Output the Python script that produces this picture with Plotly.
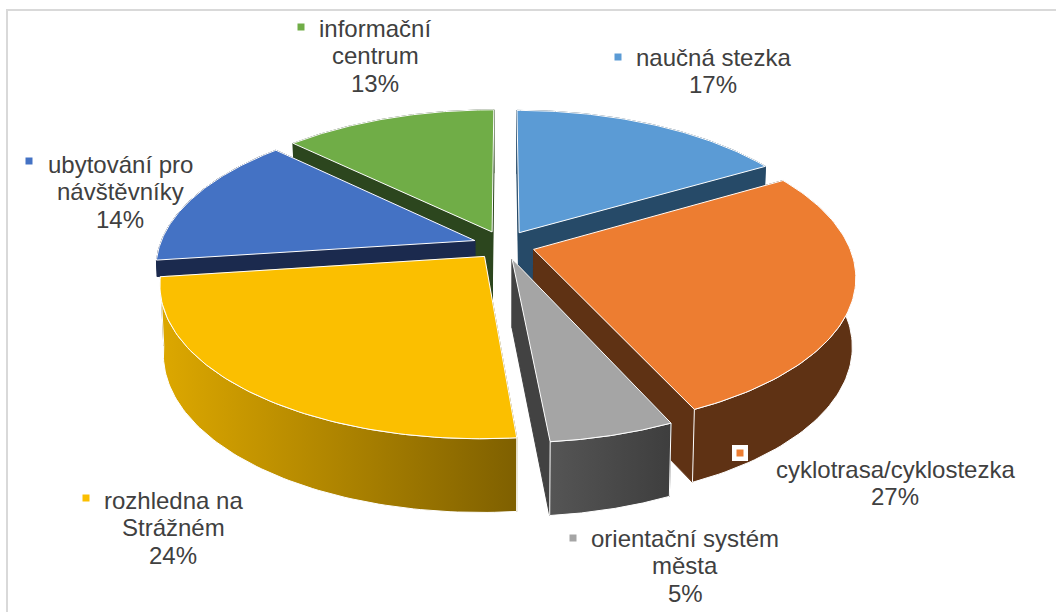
import numpy as np
import plotly.graph_objects as go

# Data, clockwise from 12 o'clock
categories = ["naučná stezka", "cyklotrasa/cyklostezka", "orientační systém<br>města",
              "rozhledna na<br>Strážném", "ubytování pro<br>návštěvníky", "informační<br>centrum"]
values = [16.6, 26.6, 5.3, 24.4, 14.3, 12.8]
top_colors = ["#5B9BD5", "#ED7D31", "#A5A5A5", "#FBBF00", "#4472C4", "#70AD47"]
wall_colors = ["#264A68", "#5F3214", "#424242", "#7F6000", "#1B2A4E", "#2C461E"]
side_scales = [["#264A68", "#264A68"], ["#5F3214", "#5F3214"], ["#555555", "#3E3E3E"],
               ["#DDA800", "#7F6000"], ["#1B2A4E", "#1B2A4E"], ["#2C461E", "#2C461E"]]
wall_depth = [1, 1, 1, 1, 0.24, 1]
draw_order = [0, 5, 4, 1, 3, 2]

# Projection of the tilted, exploded disc onto the page
CX, CY, RX, RY, PERSP, DEPTH, EXPLODE, TAPER = 504, 245, 315, 147, 0.17, 68, 0.098, 0.01


def project(u, v, z):
    s = 1 / (1 + PERSP * v)
    return CX + RX * u * s * (1 - TAPER * z), CY - RY * v * s + DEPTH * z * s ** 0.4


total = sum(values)
bounds = np.cumsum([0] + values) / total * 2 * np.pi
fig = go.Figure()


def poly(pts, fill=None, line="white", gradient=None, width=1):
    xs = [p[0] for p in pts] + [pts[0][0]]
    ys = [p[1] for p in pts] + [pts[0][1]]
    kw = dict(fillgradient=dict(type="horizontal", colorscale=[[0, gradient[0]], [1, gradient[1]]])) if gradient else dict(fillcolor=fill)
    fig.add_trace(go.Scatter(x=xs, y=ys, mode="lines", fill="toself", line=dict(color=line, width=width),
                             hoverinfo="skip", showlegend=False, **kw))


for i in draw_order:
    a0, a1 = bounds[i], bounds[i + 1]
    mid = (a0 + a1) / 2
    ou, ov = EXPLODE * np.sin(mid), EXPLODE * np.cos(mid)
    th = np.linspace(a0, a1, 80)
    uu, vv = ou + np.sin(th), ov + np.cos(th)
    d = wall_depth[i]
    top = [project(a, b, 0) for a, b in zip(uu, vv)]
    bottom = [project(a, b, d) for a, b in zip(uu, vv)]
    apex_t, apex_b = project(ou, ov, 0), project(ou, ov, d)
    side = top + bottom[::-1]
    wall0 = [apex_t, top[0], bottom[0], apex_b]
    wall1 = [apex_t, top[-1], bottom[-1], apex_b]
    walls = sorted([wall0, wall1], key=lambda w: w[1][1])
    back = np.cos(mid) > 0
    if back:
        poly(side, line=wall_colors[i], fill=wall_colors[i])
    for w in walls:
        poly(w, fill=wall_colors[i], line=wall_colors[i])
    if not back:
        poly(side, gradient=side_scales[i], line="white")
    poly([apex_t] + top, fill=top_colors[i], line="white")

# Data labels with their small colour keys
label_x = [713, 895, 685, 173, 120, 375]
label_y = [57, 469, 538, 500, 164, 28]
key_x = [618, 740, 573, 86, 29, 301]
key_y = [57, 453, 538, 498, 161, 27]
LINE_STEP = 27.5
for i, name in enumerate(categories):
    lines = name.split("<br>") + [f"{round(values[i])}%"]
    for k, txt in enumerate(lines):
        fig.add_annotation(x=label_x[i], y=label_y[i] + k * LINE_STEP, text=txt, showarrow=False,
                           xanchor="center", yanchor="middle", align="center",
                           font=dict(family="Liberation Sans", size=24, color="#404040"))
fig.add_trace(go.Scatter(x=[key_x[1]], y=[key_y[1]], mode="markers", hoverinfo="skip", showlegend=False,
                         marker=dict(symbol="square", size=16, color="white")))
fig.add_trace(go.Scatter(x=key_x, y=key_y, mode="markers", hoverinfo="skip", showlegend=False,
                         marker=dict(symbol="square", size=7, color=top_colors)))

fig.update_layout(
    width=1056, height=612, margin=dict(l=0, r=0, t=0, b=0), paper_bgcolor="white", plot_bgcolor="white",
    xaxis=dict(range=[0, 1056], visible=False, fixedrange=True),
    yaxis=dict(range=[612, 0], visible=False, fixedrange=True),
    shapes=[dict(type="rect", x0=7, y0=10, x1=1200, y1=800, line=dict(color="#D9D9D9", width=2), layer="below")],
)
fig.write_html("out.html", config=dict(displayModeBar=False), post_script="document.body.style.margin='0';")
